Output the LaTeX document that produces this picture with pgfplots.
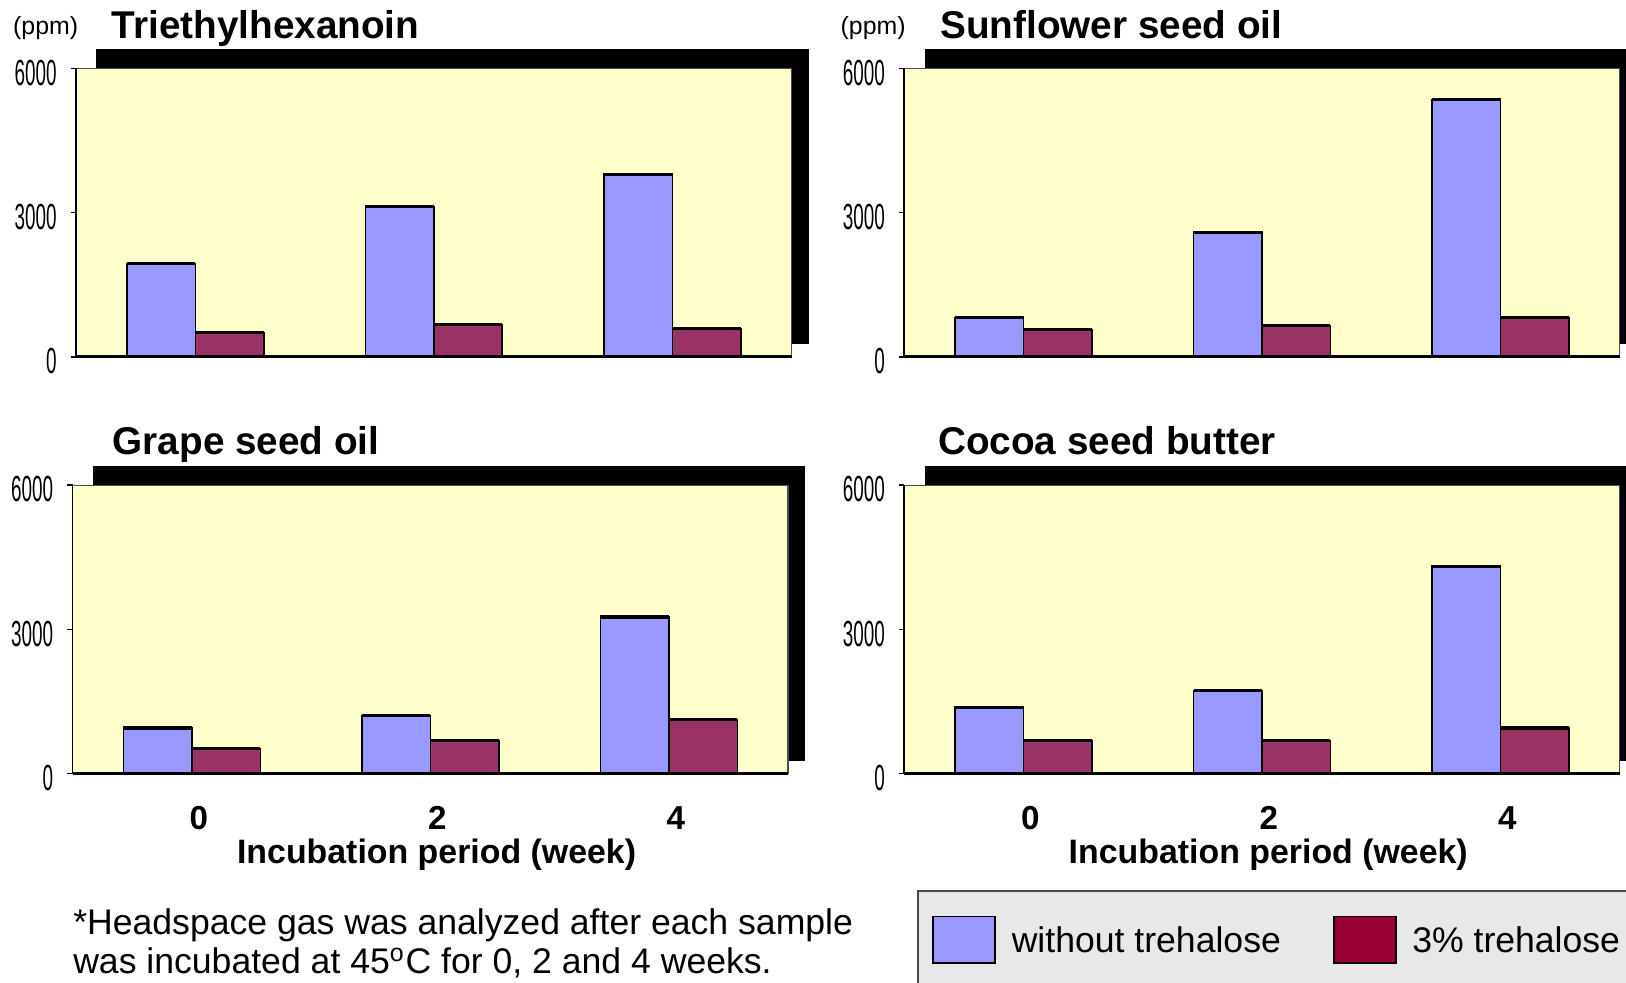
\documentclass[border=0pt]{standalone}
\usepackage{fontspec}
\setmainfont{Liberation Sans}
\usepackage{graphicx}
\usepackage{pgfplots}
\pgfplotsset{compat=1.18}
\definecolor{barblue}{HTML}{9999FF}
\definecolor{barred}{HTML}{993366}
\definecolor{legred}{HTML}{990033}
\definecolor{bgyellow}{HTML}{FFFFCC}
\definecolor{legbg}{HTML}{E8E8E8}
\newcommand\nr[1]{\scalebox{0.52}[1]{#1}}
\newcommand\panelbg{%
  \fill[black] ([xshift=5.9pt,yshift=3.7pt]rel axis cs:0,0) rectangle ([xshift=5pt,yshift=5.5pt]rel axis cs:1,1);
  \filldraw[fill=bgyellow, draw=gray!60!black, line width=0.4pt] (rel axis cs:0,0) rectangle (rel axis cs:1,1);
}
\pgfplotsset{
  panel/.style={
    width=207pt, height=83.4pt, scale only axis,
    xmin=-0.5, xmax=2.5, ymin=0, ymax=6000,
    clip=false, axis on top,
    axis x line*=bottom, axis y line*=left,
    x axis line style={-, line width=0.8pt},
    y axis line style={-, line width=0.5pt},
    xtick={0,1,2}, xtick style={draw=none},
    ytick={0,3000,6000}, yticklabels={\nr{0},\nr{3000},\nr{6000}},
    tick align=outside, major tick length=1.6pt,
    ytick style={line width=0.5pt, black},
    yticklabel style={font=\fontsize{10.5}{12}\selectfont, inner sep=0pt, xshift=-3.8pt, yshift=-1.2pt},
    xticklabel style={font=\bfseries\fontsize{9.6}{11}\selectfont, inner sep=0pt, yshift=-7.8pt, xshift=2pt},
    xlabel style={font=\bfseries\fontsize{9.8}{12}\selectfont, at={(axis description cs:0.5,0)}, anchor=north, inner sep=0pt, yshift=-18.6pt, xshift=1.8pt},
    ybar=0pt, bar width=19.8pt,
  },
  blues/.style={fill=barblue, draw=black, line width=0.45pt, bar shift=-9.9pt, mark=-, mark size=9.9pt, mark options={xshift=-9.9pt, line width=0.9pt, draw=black, solid}, forget plot},
  reds/.style={fill=barred, draw=black, line width=0.45pt, bar shift=9.9pt, mark=-, mark size=9.9pt, mark options={xshift=9.9pt, line width=0.9pt, draw=black, solid}, forget plot},
}
\begin{document}
\begin{tikzpicture}
\useasboundingbox (0,0) rectangle (470.4pt,284.1pt);

% Top-left: Triethylhexanoin
\begin{axis}[panel, at={(22pt,180.9pt)}, anchor=south west, xticklabels={}]
\panelbg
\addplot[blues] coordinates {(0,1943) (1,3130) (2,3799)};
\addplot[reds] coordinates {(0,496) (1,669) (2,583)};
\end{axis}

% Top-right: Sunflower seed oil
\begin{axis}[panel, at={(261.6pt,180.9pt)}, anchor=south west, xticklabels={}]
\panelbg
\addplot[blues] coordinates {(0,820) (1,2590) (2,5353)};
\addplot[reds] coordinates {(0,561) (1,648) (2,820)};
\end{axis}

% Bottom-left: Grape seed oil
\begin{axis}[panel, at={(21pt,60.3pt)}, anchor=south west, xticklabels={0,2,4}, xlabel={Incubation period (week)}]
\panelbg
\addplot[blues] coordinates {(0,950) (1,1209) (2,3259)};
\addplot[reds] coordinates {(0,518) (1,691) (2,1122)};
\end{axis}

% Bottom-right: Cocoa seed butter
\begin{axis}[panel, at={(261.6pt,60.3pt)}, anchor=south west, xticklabels={0,2,4}, xlabel={Incubation period (week)},
  legend columns=2,
  legend style={at={(axis description cs:0.0174,-0.403)}, anchor=north west,
    fill=legbg, draw=black!70, line width=0.6pt, inner xsep=4.2pt, inner ysep=7.2pt,
    font=\fontsize{10.3}{12}\selectfont,
    nodes={inner sep=0pt, text depth=0pt},
    cells={anchor=west},
    /tikz/every odd column/.style={column sep=4.5pt},
    /tikz/every even column/.style={column sep=15pt}}]
\panelbg
\addlegendimage{legend image code/.code={\draw[fill=barblue, draw=black, line width=0.5pt] (0pt,-6.75pt) rectangle (18pt,6.75pt);}}
\addlegendentry{without trehalose}
\addlegendimage{legend image code/.code={\draw[fill=legred, draw=black, line width=0.5pt] (0pt,-6.75pt) rectangle (18pt,6.75pt);}}
\addlegendentry{3\% trehalose}
\addplot[blues] coordinates {(0,1381) (1,1727) (2,4317)};
\addplot[reds] coordinates {(0,691) (1,691) (2,950)};
\end{axis}

% Titles
\node[anchor=base west, inner sep=0pt, font=\bfseries\fontsize{11.2}{13}\selectfont] at (32.1pt,273.1pt) {Triethylhexanoin};
\node[anchor=base west, inner sep=0pt, font=\bfseries\fontsize{11.2}{13}\selectfont] at (271.8pt,273.1pt) {Sunflower seed oil};
\node[anchor=base west, inner sep=0pt, font=\bfseries\fontsize{11.2}{13}\selectfont] at (32.4pt,152.7pt) {Grape seed oil};
\node[anchor=base west, inner sep=0pt, font=\bfseries\fontsize{11.2}{13}\selectfont] at (271.2pt,152.7pt) {Cocoa seed butter};
\node[anchor=base west, inner sep=0pt, font=\fontsize{7.2}{9}\selectfont] at (3.6pt,274.2pt) {(ppm)};
\node[anchor=base west, inner sep=0pt, font=\fontsize{7.2}{9}\selectfont] at (243pt,274.2pt) {(ppm)};

% Footnote
\node[anchor=base west, inner sep=0pt, font=\fontsize{10.3}{12}\selectfont] at (21pt,13.8pt) {*Headspace gas was analyzed after each sample};
\node[anchor=base west, inner sep=0pt, font=\fontsize{10.3}{12}\selectfont] at (21pt,2.4pt) {was incubated at 45\textsuperscript{o}C for 0, 2 and 4 weeks.};
\end{tikzpicture}
\end{document}
